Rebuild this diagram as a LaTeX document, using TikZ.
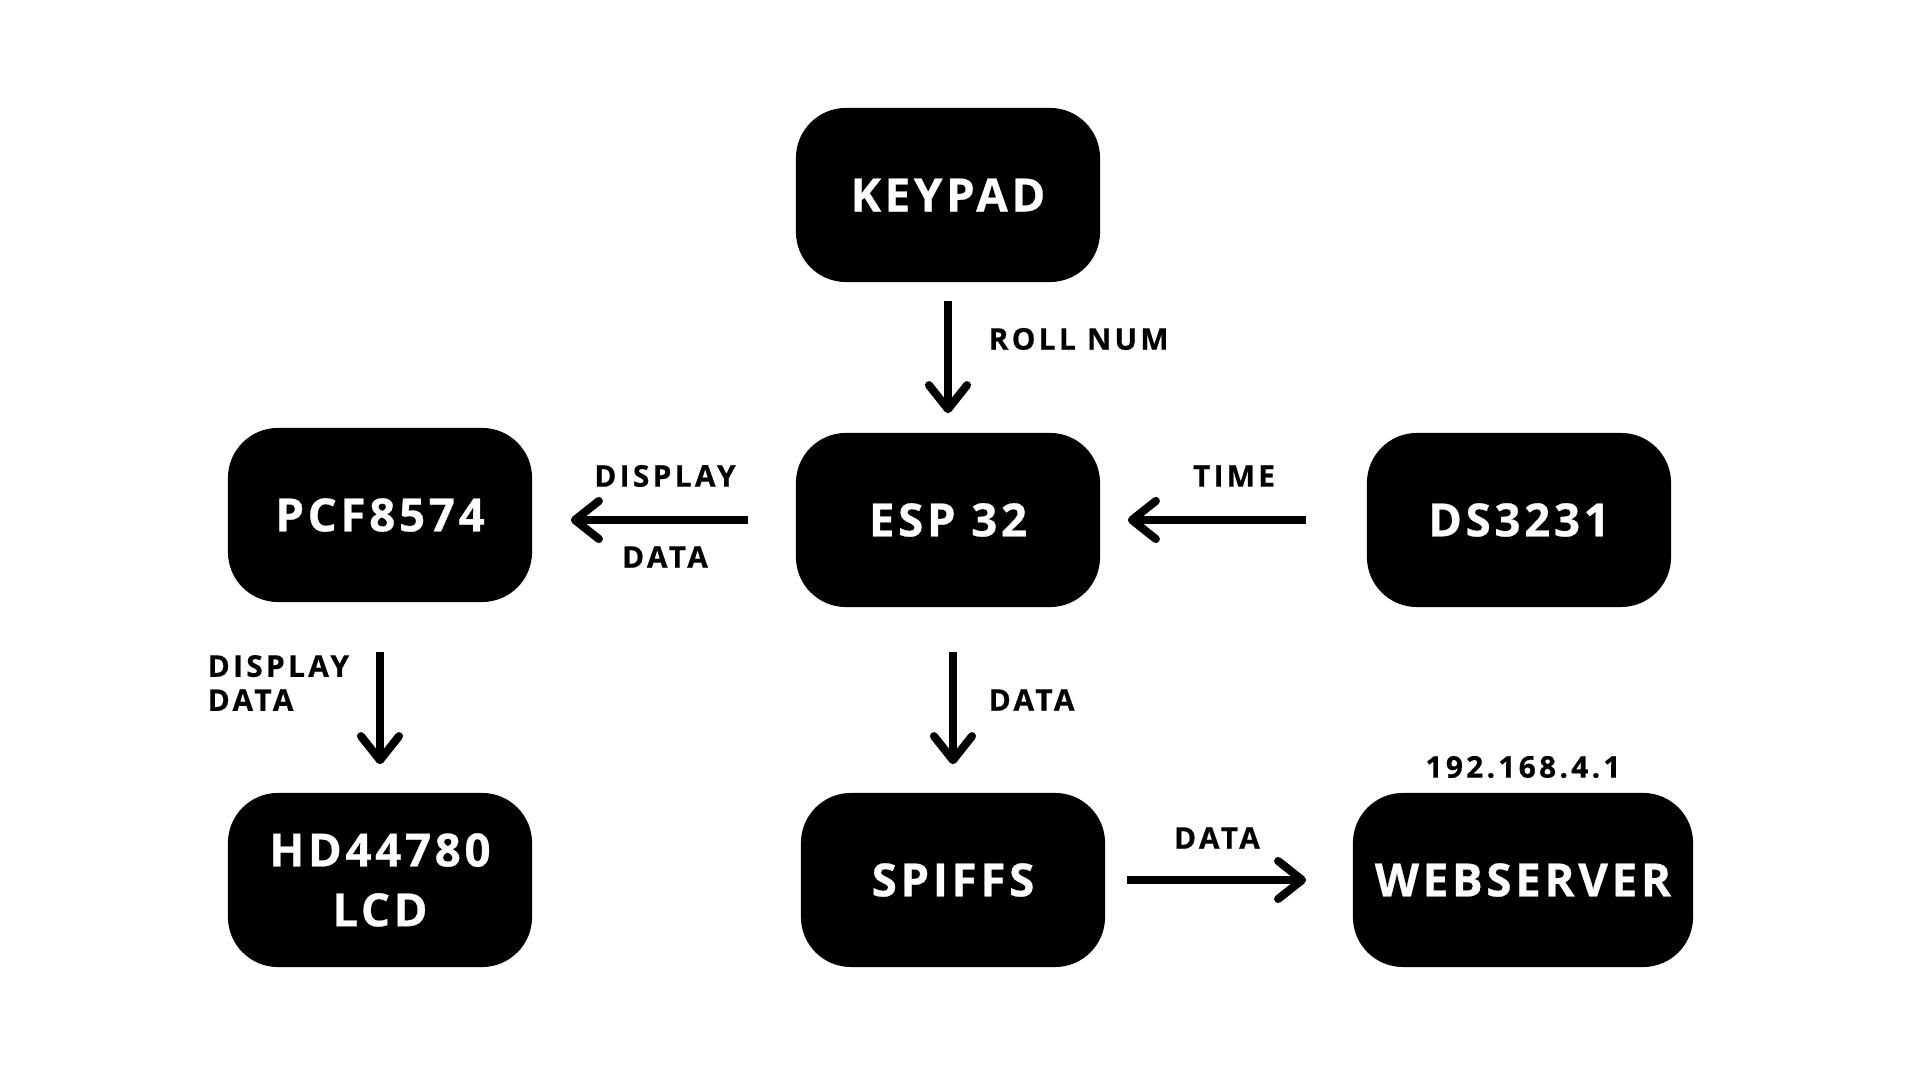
\documentclass[tikz,border=0pt]{standalone}
\usepackage{fontspec}
\setmainfont{Open Sans}
\newfontfamily\boxfont{Open Sans}[LetterSpace=8, BoldFeatures={FakeBold=0.6}]
\newfontfamily\tagfont{Open Sans}[LetterSpace=11, BoldFeatures={FakeBold=0.5}]
\usetikzlibrary{arrows.meta,positioning}

\tikzset{
  block/.style={fill=black, rounded corners=0.5cm, minimum width=3.04cm,
    minimum height=1.74cm, text=white, align=center,
    font=\boxfont\bfseries\fontsize{13}{17}\selectfont},
  tag/.style={inner sep=0pt, font=\tagfont\bfseries\fontsize{8.5}{9.7}\selectfont},
  link/.style={line width=2.3pt, -{Straight Barb[round,length=2.4mm,width=3.8mm]}},
}

\begin{document}
\begin{tikzpicture}[x=0.01cm,y=-0.01cm]
   \useasboundingbox (0,0) rectangle (1920,1080);

   % boxes
   \node[block] (keypad) at (948,195) {KEYPAD};
   \node[block] (pcf) at (380,515) {PCF8574};
   \node[block] (esp) at (948,520) {ESP 32};
   \node[block] (ds) at (1519,520) {DS3231};
   \node[block] (lcd) at (380,880) {HD44780\\LCD};
   \node[block] (spiffs) at (953,880) {SPIFFS};
   \node[block, minimum width=3.4cm] (web) at (1523,880) {WEBSERVER};

   % connectors
   \draw[link, shorten <=0.18cm, shorten >=0.19cm] (keypad) -- (esp);
   \draw[link, shorten <=0.47cm, shorten >=0.38cm] (esp.west) -- (esp.west -| pcf.east);
   \draw[link, shorten <=0.60cm, shorten >=0.27cm] (ds) -- (esp);
   \draw[link, shorten <=0.49cm, shorten >=0.28cm] (pcf) -- (lcd);
   \draw[link, shorten <=0.44cm, shorten >=0.28cm] (esp.south -| spiffs) -- (spiffs);
   \draw[link, shorten <=0.21cm, shorten >=0.46cm] (spiffs) -- (web);

   % labels
   \node[tag, anchor=west] (rollnum) at (988,339) {ROLL NUM};
   \node[tag] (dispup) at (665,476) {DISPLAY};
   \node[tag] (dispdown) at (665,557) {DATA};
   \node[tag] (time) at (1234,476) {TIME};
   \node[tag, anchor=west, align=left] (lcddata) at (207,683) {DISPLAY\\DATA};
   \node[tag, anchor=west] (spiffsdata) at (988,700) {DATA};
   \node[tag] (webdata) at (1217,838) {DATA};
   \node[tag] (ip) at (1523,767) {192.168.4.1};

\end{tikzpicture}
\end{document}
